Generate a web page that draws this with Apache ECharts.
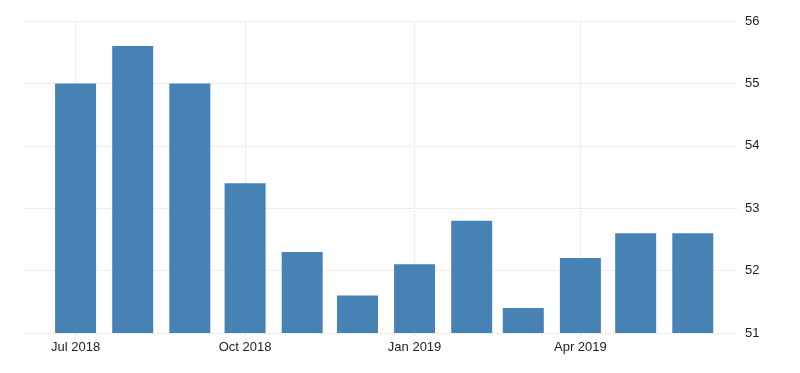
<!DOCTYPE html>
<html>
<head>
<meta charset="utf-8">
<script src="https://cdn.jsdelivr.net/npm/echarts@6/dist/echarts.min.js"></script>
<style>html,body{margin:0;padding:0;background:#fff}#c{width:800px;height:373px}</style>
</head>
<body>
<div id="c"></div>
<script>
var months = ['2018-07-01','2018-08-01','2018-09-01','2018-10-01','2018-11-01','2018-12-01','2019-01-01','2019-02-01','2019-03-01','2019-04-01','2019-05-01','2019-06-01'];
var values = [55.0, 55.6, 55.0, 53.4, 52.3, 51.6, 52.1, 52.8, 51.4, 52.2, 52.6, 52.6];
var tickDates = ['2018-07-01','2018-10-01','2019-01-01','2019-04-01'];
var yTicks = [51, 52, 53, 54, 55, 56];
var axisMin = '2018-06-03';
var axisMax = '2019-06-25';

function ts(s){ var p = s.split('-'); return Date.UTC(+p[0], +p[1]-1, +p[2]); }
var monthNames = ['Jan','Feb','Mar','Apr','May','Jun','Jul','Aug','Sep','Oct','Nov','Dec'];

var chart = echarts.init(document.getElementById('c'));
chart.setOption({
  animation: false,
  backgroundColor: '#fff',
  grid: {left: 24, right: 63, top: 21, bottom: 40},
  xAxis: {
    type: 'value',
    min: ts(axisMin),
    max: ts(axisMax),
    axisLine: {show: false},
    axisTick: {show: true, length: 3, lineStyle: {color: '#e6e6e6'}, customValues: tickDates.map(ts)},
    splitLine: {show: false},
    axisLabel: {
      customValues: tickDates.map(ts),
      color: '#222', fontSize: 13, fontFamily: 'Liberation Sans', margin: 8,
      formatter: function(v){ var d = new Date(v); return monthNames[d.getUTCMonth()] + ' ' + d.getUTCFullYear(); }
    }
  },
  yAxis: {
    type: 'value',
    position: 'right',
    min: yTicks[0], max: yTicks[yTicks.length-1], interval: 1,
    axisLine: {show: false},
    axisTick: {show: false},
    splitLine: {lineStyle: {color: '#e8e8e8', type: [3,1]}},
    axisLabel: {color: '#222', fontSize: 13, fontFamily: 'Liberation Sans', margin: 8}
  },
  series: [{
    type: 'bar',
    barWidth: 41,
    itemStyle: {color: '#4682b4'},
    data: months.map(function(m, i){ return [ts(m), values[i]]; }),
    markLine: {
      silent: true,
      symbol: 'none',
      label: {show: false},
      z: 0,
      lineStyle: {color: '#e8e8e8', type: [3,1], width: 1},
      data: tickDates.map(function(d){ return {xAxis: ts(d)}; })
    }
  }]
});
</script>
</body>
</html>
